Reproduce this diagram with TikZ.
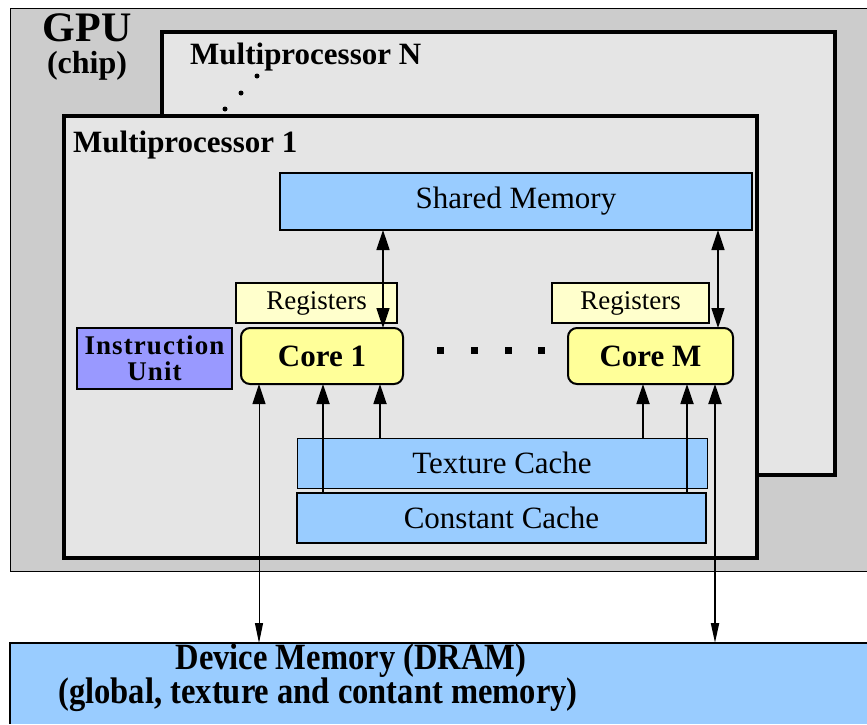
\documentclass[tikz,border=0pt]{standalone}
\usepackage{fontspec}
\setmainfont{Liberation Serif}[BoldFont={Liberation Serif Bold}, ItalicFont={Liberation Serif Italic}]
\usetikzlibrary{arrows.meta}
\definecolor{gpugray}{HTML}{CCCCCC}
\definecolor{mpgray}{HTML}{E5E5E5}
\definecolor{memblue}{HTML}{99CCFF}
\definecolor{regyellow}{HTML}{FFFFCC}
\definecolor{coreyellow}{HTML}{FFFF99}
\definecolor{iupurple}{HTML}{9999FF}
\begin{document}
\begin{tikzpicture}[x=1pt,y=-1pt,
  box/.style={inner sep=0pt, anchor=north west, outer sep=0pt},
  mpbox/.style={draw=black, line width=4pt, fill=mpgray},
  membox/.style={box, draw=black, line width=1.5pt, fill=memblue, font=\fontsize{31}{34}\selectfont},
  regbox/.style={box, draw=black, line width=1.5pt, fill=regyellow, font=\fontsize{27}{30}\selectfont},
  corebox/.style={box, draw=black, line width=2pt, fill=coreyellow, rounded corners=9pt, font=\fontsize{31}{34}\selectfont\bfseries},
  bigtip/.tip={Triangle[length=20pt,width=13pt]},
  smalltip/.tip={Triangle[length=20pt,width=8pt]},
  conn/.style={line width=1.8pt},
  pdot/.style={circle, fill=black, inner sep=0pt, minimum size=5pt},
  dots/.style={fill=black, inner sep=0pt, minimum size=7pt}]
\useasboundingbox (0,0) rectangle (867,724);
% GPU chip background
\fill[gpugray] (10,8) rectangle (867,571);
\draw[line width=1pt] (867,8) -- (10,8) -- (10,571) -- (867,571);
\node[anchor=north, font=\fontsize{42}{42}\selectfont\bfseries, inner sep=0pt] (gpu) at (87,13) {GPU};
\node[anchor=north, font=\fontsize{32}{32}\selectfont\bfseries, inner sep=0pt] (chip) at (87,51) {(chip)};
% Multiprocessor N
\draw[mpbox] (162,32) rectangle (835,475);
\node[anchor=west, font=\fontsize{31}{34}\selectfont\bfseries, inner sep=0pt] (mpn) at (190,57) {Multiprocessor N};
\node[pdot] (d1) at (257,76) {};
\node[pdot] (d2) at (241,93) {};
\node[pdot] (d3) at (225,109) {};
% Multiprocessor 1
\draw[mpbox] (64,116) rectangle (757,558);
\node[anchor=west, font=\fontsize{31}{34}\selectfont\bfseries, inner sep=0pt] (mp1) at (73,145) {Multiprocessor 1};
% Shared memory
\node[membox, minimum width=472pt, minimum height=57pt] (sm) at (280,173) {Shared Memory};
% registers
\node[regbox, minimum width=161pt, minimum height=40pt] (r1) at (236,283) {Registers};
\node[regbox, minimum width=157pt, minimum height=40pt] (rm) at (552,283) {Registers};
% cores
\node[corebox, minimum width=162pt, minimum height=56pt] (c1) at (241,328) {Core 1};
\node[corebox, minimum width=165pt, minimum height=56pt] (cm) at (568,328) {Core M};
% instruction unit
\node[box, draw=black, line width=1.5pt, fill=iupurple, minimum width=155pt, minimum height=61pt, align=center, font=\fontsize{27}{26}\selectfont\bfseries] (iu) at (77,328) {\addfontfeature{LetterSpace=4}Instruction\\\addfontfeature{LetterSpace=4}Unit};
% dots between cores
\node[dots] (q1) at (440,350) {};
\node[dots] (q2) at (474,350) {};
\node[dots] (q3) at (508,350) {};
\node[dots] (q4) at (541,350) {};
% caches
\node[membox, line width=1pt, minimum width=410pt, minimum height=50pt] (tc) at (297,438) {Texture Cache};
\node[membox, line width=2.5pt, minimum width=409pt, minimum height=50pt] (cc) at (297,493) {Constant Cache};
% device memory
\node[box, fill=memblue, minimum width=857pt, minimum height=81pt] (dm) at (10,643) {};
\draw[line width=2pt] (867,643) -- (10,643) -- (10,724);
\node[font=\fontsize{37}{37}\selectfont\bfseries, inner sep=0pt, xscale=0.88] (dt1) at (351,661) {Device Memory (DRAM)};
\node[font=\fontsize{37}{37}\selectfont\bfseries, inner sep=0pt, xscale=0.88] (dt2) at (318,695) {(global, texture and contant memory)};
% connectors
\draw[conn, line width=1.5pt, {bigtip}-{bigtip}] (sm.south -| 383,0) -- (c1.north -| 383,0);
\draw[conn, line width=1.5pt, {bigtip}-{bigtip}] (sm.south -| 718,0) -- (cm.north -| 718,0);
\draw[line width=1pt, {bigtip}-{smalltip}] (c1.south -| 259,0) -- (dm.north -| 259,0);
\draw[line width=2pt, {bigtip}-{smalltip}] (cm.south -| 715,0) -- (dm.north -| 715,0);
\draw[conn, -{bigtip}] (cc.north -| 323,0) -- (c1.south -| 323,0);
\draw[conn, -{bigtip}] (tc.north -| 380,0) -- (c1.south -| 380,0);
\draw[conn, -{bigtip}] (tc.north -| 643,0) -- (cm.south -| 643,0);
\draw[conn, -{bigtip}] (cc.north -| 687,0) -- (cm.south -| 687,0);
\end{tikzpicture}
\end{document}
